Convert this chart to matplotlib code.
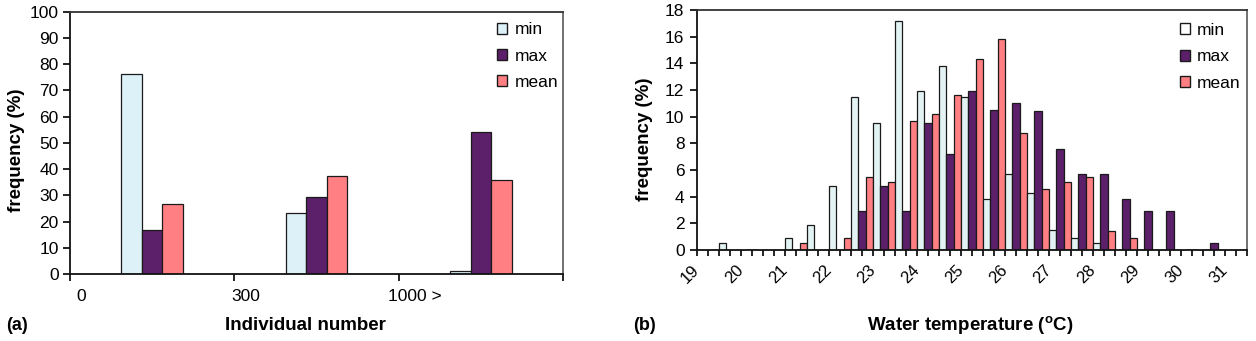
import matplotlib
matplotlib.use("Agg")
import matplotlib.pyplot as plt
from matplotlib.patches import Patch
from matplotlib.ticker import MultipleLocator

plt.rcParams['font.family'] = ['Liberation Sans', 'DejaVu Sans']
plt.rcParams['mathtext.fontset'] = 'custom'
plt.rcParams['mathtext.rm'] = 'Liberation Sans'
plt.rcParams['mathtext.bf'] = 'Liberation Sans:bold'

# (a) individual number classes
ind_labels = ["0", "300", "1000 >"]
ind_min = [76.3, 23.3, 1.2]
ind_max = [16.7, 29.5, 54.0]
ind_mean = [26.8, 37.4, 35.8]

# (b) water temperature, 0.5 degree classes (lower bound of each class)
temp_bins = [19.0, 19.5, 20.0, 20.5, 21.0, 21.5, 22.0, 22.5, 23.0, 23.5, 24.0, 24.5,
             25.0, 25.5, 26.0, 26.5, 27.0, 27.5, 28.0, 28.5, 29.0, 29.5, 30.0, 30.5, 31.0]
temp_min = [0, 0.5, 0, 0, 0.9, 1.9, 4.8, 11.5, 9.5, 17.2, 11.9, 13.8,
            11.5, 3.8, 5.7, 4.3, 1.5, 0.9, 0.5, 0, 0, 0, 0, 0, 0]
temp_max = [0, 0, 0, 0, 0, 0, 0, 2.9, 4.8, 2.9, 9.5, 7.2,
            11.9, 10.5, 11.0, 10.4, 7.6, 5.7, 5.7, 3.8, 2.9, 2.9, 0, 0.5, 0]
temp_mean = [0, 0, 0, 0, 0.5, 0, 0.9, 5.5, 5.1, 9.7, 10.2, 11.6,
             14.3, 15.8, 8.8, 4.6, 5.1, 5.5, 1.4, 0.9, 0, 0, 0, 0, 0]
temp_ticks = [19, 20, 21, 22, 23, 24, 25, 26, 27, 28, 29, 30, 31]

c_min_a = '#dcf1f8'
c_min_b = '#e3f3f3'
c_max = '#5c1f6a'
c_mean = '#ff7f82'
edge = '#1a1a1a'

W, H = 1256, 341
fig = plt.figure(figsize=(W / 100, H / 100), dpi=100)
ax1 = fig.add_axes([69.7 / W, (H - 274) / H, (563 - 69.7) / W, (274 - 11.6) / H])
ax2 = fig.add_axes([697 / W, (H - 250) / H, 550 / W, 240 / H])


def style_box(ax):
    ax.spines['left'].set_color('#111111')
    ax.spines['bottom'].set_color('#111111')
    ax.spines['top'].set_color('#333333')
    ax.spines['right'].set_color('#666666')
    for s in ax.spines.values():
        s.set_linewidth(1.3)


# ---- panel (a)
bw = 0.125
for i in range(len(ind_labels)):
    c = i + 0.5
    ax1.bar(c - bw, ind_min[i], bw, color=c_min_a, edgecolor=edge, linewidth=0.9)
    ax1.bar(c, ind_max[i], bw, color=c_max, edgecolor=edge, linewidth=0.9)
    ax1.bar(c + bw, ind_mean[i], bw, color=c_mean, edgecolor=edge, linewidth=0.9)

ax1.set_xlim(0, 3)
ax1.set_ylim(0, 100)
ax1.set_yticks(range(0, 101, 10))
ax1.set_xticks([0, 1, 2, 3])
ax1.set_xticklabels([])
ax1.set_xticks([0.07, 1.07, 2.1], minor=True)
ax1.set_xticklabels(ind_labels, minor=True)
ax1.tick_params(axis='x', which='major', direction='out', length=5, width=1.2)
ax1.tick_params(axis='x', which='minor', length=0, pad=11, labelsize=12.5)
ax1.tick_params(axis='y', direction='out', length=5, width=1.2, pad=3, labelsize=12.5)
style_box(ax1)
ax1.set_ylabel('frequency (%)', fontsize=13.5, fontweight='bold')
ax1.yaxis.set_label_coords(-0.09, 0.47)
ax1.legend(handles=[Patch(facecolor=c_min_a, edgecolor=edge, label='min'),
                    Patch(facecolor=c_max, edgecolor=edge, label='max'),
                    Patch(facecolor=c_mean, edgecolor=edge, label='mean')],
           loc='upper left', bbox_to_anchor=(0.852, 0.985), frameon=False,
           fontsize=12.5, handlelength=0.6, handleheight=0.6, handletextpad=0.4,
           labelspacing=0.65, borderaxespad=0)

# ---- panel (b)
w = 0.5 / 3
for k in range(len(temp_bins)):
    x0 = temp_bins[k]
    ax2.bar(x0, temp_min[k], w, align='edge', color=c_min_b, edgecolor=edge, linewidth=0.9)
    ax2.bar(x0 + w, temp_max[k], w, align='edge', color=c_max, edgecolor=edge, linewidth=0.9)
    ax2.bar(x0 + 2 * w, temp_mean[k], w, align='edge', color=c_mean, edgecolor=edge, linewidth=0.9)

ax2.set_xlim(19, 31.5)
ax2.set_ylim(0, 18)
ax2.set_yticks(range(0, 19, 2))
ax2.set_xticks(temp_ticks)
ax2.set_xticklabels([str(t) for t in temp_ticks], rotation=45, ha='right', va='center',
                    rotation_mode='anchor')
ax2.xaxis.set_minor_locator(MultipleLocator(0.25))
ax2.tick_params(axis='x', which='both', direction='out', length=4, width=1.2)
ax2.tick_params(axis='x', which='major', pad=9, labelsize=12)
ax2.tick_params(axis='y', direction='out', length=5, width=1.2, pad=4, labelsize=12.5)
style_box(ax2)
ax2.set_ylabel('frequency (%)', fontsize=13.5, fontweight='bold')
ax2.yaxis.set_label_coords(-0.08, 0.46)
ax2.legend(handles=[Patch(facecolor='white', edgecolor=edge, label='min'),
                    Patch(facecolor=c_max, edgecolor=edge, label='max'),
                    Patch(facecolor=c_mean, edgecolor=edge, label='mean')],
           loc='upper left', bbox_to_anchor=(0.865, 0.975), frameon=False,
           fontsize=12.5, handlelength=0.6, handleheight=0.6, handletextpad=0.4,
           labelspacing=0.65, borderaxespad=0)

fig.text(305 / W, 1 - 326 / H, 'Individual number', ha='center', va='center',
         fontsize=13.5, fontweight='bold')
fig.text(970 / W, 1 - 326 / H, r'Water temperature ($^{\mathbf{o}}$C)', ha='center',
         va='center', fontsize=13.5, fontweight='bold')
fig.text(17 / W, 1 - 326 / H, '(a)', ha='center', va='center', fontsize=13, fontweight='bold')
fig.text(645 / W, 1 - 326 / H, '(b)', ha='center', va='center', fontsize=13, fontweight='bold')

fig.savefig('out.png', dpi=100)
